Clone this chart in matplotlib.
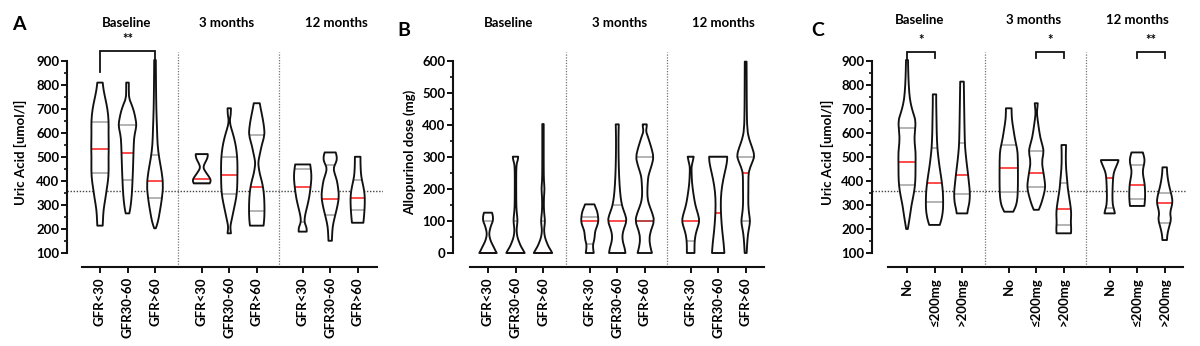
import numpy as np
import matplotlib
matplotlib.use("Agg")
import matplotlib.pyplot as plt
from matplotlib.path import Path
from matplotlib.patches import PathPatch
from matplotlib.ticker import FixedLocator
from matplotlib import transforms

plt.rcParams['font.family'] = ['Lato', 'DejaVu Sans']

# ---------------------------------------------------------------- labels
timepoints = ["Baseline", "3 months", "12 months"]
gfr_groups = ["GFR<30", "GFR30-60", "GFR>60"]
dose_groups = ["No", "\u2264200mg", ">200mg"]

# ---------------------------------------------------------------- panel A: uric acid by GFR group
a_median = [533, 518, 400, 407, 426, 376, 375, 325, 329]
a_q1 = [433, 404, 330, 390, 346, 276, 228, 258, 279]
a_q3 = [644, 633, 508, 512, 499, 592, 449, 467, 404]
a_levels = [
    [214, 240, 280, 330, 360, 400, 440, 500, 540, 600, 650, 700, 740, 780, 810],
    [265, 290, 340, 400, 450, 520, 580, 610, 635, 660, 690, 720, 745, 780, 810],
    [203, 230, 272, 328, 383, 439, 494, 550, 619, 700, 800, 904],
    [390, 400, 410, 425, 440, 455, 470, 485, 500, 512],
    [182, 200, 215, 240, 290, 330, 370, 430, 480, 520, 560, 600, 630, 655, 675, 703],
    [214, 240, 280, 330, 370, 400, 430, 460, 480, 510, 550, 590, 620, 660, 700, 724],
    [189, 205, 220, 235, 260, 290, 330, 370, 410, 440, 469],
    [151, 180, 210, 240, 265, 300, 335, 370, 404, 430, 453, 470, 487, 505, 519],
    [226, 250, 290, 330, 360, 390, 420, 450, 480, 501],
]
a_density = [
    [2.7, 3.0, 3.5, 5.5, 6.5, 8.0, 8.7, 8.5, 8.8, 8.5, 8.7, 7.5, 5.5, 3.5, 2.7],
    [1.8, 3.0, 4.3, 5.0, 5.5, 6.0, 6.5, 8.0, 9.0, 8.0, 6.5, 4.0, 1.5, 1.3, 1.3],
    [0.8, 3.0, 4.8, 7.0, 8.2, 6.7, 4.2, 2.5, 2.0, 1.3, 1.0, 0.8],
    [8.0, 9.0, 8.5, 6.0, 3.5, 1.5, 2.5, 4.5, 6.0, 6.0],
    [1.7, 1.2, 1.2, 2.5, 5.0, 7.0, 8.0, 8.2, 8.2, 7.5, 6.0, 3.5, 1.2, 0.5, 1.5, 1.7],
    [6.8, 7.5, 7.8, 7.5, 6.5, 5.0, 3.0, 1.8, 1.5, 3.0, 5.0, 7.8, 7.5, 6.0, 4.0, 3.0],
    [4.0, 4.0, 2.5, 1.7, 2.5, 4.3, 6.5, 7.8, 8.8, 8.5, 7.5],
    [1.7, 2.0, 2.5, 4.0, 5.5, 7.5, 8.8, 8.0, 6.7, 4.5, 3.3, 5.0, 6.7, 6.5, 5.5],
    [5.7, 6.3, 7.0, 7.2, 6.5, 5.0, 3.5, 3.0, 2.8, 2.8],
]

# ---------------------------------------------------------------- panel B: allopurinol dose by GFR group
b_median = [0, 0, 0, 101, 101, 100, 101, 126, 251]
b_q1 = [0, 0, 0, 28, 0, 100, 38, 0, 100]
b_q3 = [100, 100, 100, 113, 150, 300, 300, 300, 300]
b_levels = [
    [0, 10, 20, 35, 50, 62, 75, 90, 100, 115, 126],
    [0, 10, 20, 35, 50, 70, 85, 100, 115, 140, 200, 260, 280, 290, 301],
    [0, 10, 20, 35, 50, 70, 85, 100, 115, 140, 175, 200, 225, 260, 330, 403],
    [0, 15, 28, 40, 55, 70, 85, 100, 115, 130, 145, 152],
    [0, 15, 35, 55, 75, 100, 120, 140, 160, 190, 240, 300, 360, 402],
    [0, 20, 45, 70, 100, 125, 145, 165, 190, 220, 240, 260, 280, 300, 325, 345, 365, 380, 395, 402],
    [0, 20, 38, 60, 80, 100, 120, 140, 160, 190, 220, 250, 270, 285, 301],
    [0, 30, 70, 110, 150, 190, 230, 270, 290, 301],
    [0, 30, 60, 80, 100, 120, 150, 200, 240, 260, 290, 305, 330, 355, 385, 450, 520, 598],
]
b_density = [
    [8.7, 7.0, 5.5, 3.0, 1.5, 1.2, 2.0, 3.5, 5.0, 5.0, 4.0],
    [9.2, 7.5, 5.5, 3.5, 1.8, 1.0, 1.5, 2.0, 1.7, 0.8, 0.7, 0.7, 1.2, 2.3, 2.7],
    [9.2, 7.5, 5.5, 3.5, 1.8, 1.0, 1.5, 2.0, 1.5, 0.8, 0.9, 1.6, 0.9, 0.7, 0.7, 0.7],
    [4.0, 3.3, 3.3, 4.5, 5.0, 5.5, 7.5, 8.7, 8.3, 7.5, 5.5, 4.7],
    [8.2, 7.5, 5.5, 5.0, 6.5, 9.5, 8.0, 5.5, 4.0, 2.8, 1.8, 1.3, 1.2, 1.5],
    [7.2, 5.5, 4.5, 6.0, 9.7, 7.5, 5.0, 3.0, 2.5, 3.0, 3.5, 5.5, 7.5, 8.8, 7.0, 5.0, 3.0, 1.2, 2.0, 2.0],
    [3.8, 3.8, 4.0, 5.0, 7.0, 8.8, 7.5, 5.5, 4.0, 2.5, 1.3, 0.9, 0.8, 2.0, 3.0],
    [6.2, 5.5, 4.0, 3.0, 2.5, 3.0, 5.0, 8.0, 9.0, 9.0],
    [1.0, 1.5, 2.3, 3.5, 4.5, 3.5, 2.5, 2.7, 2.7, 3.5, 7.5, 8.8, 6.5, 3.5, 1.5, 1.1, 1.0, 0.9],
]

# ---------------------------------------------------------------- panel C: uric acid by allopurinol dose
c_median = [480, 390, 424, 454, 435, 283, 414, 385, 308]
c_q1 = [382, 314, 346, 353, 374, 215, 286, 324, 226]
c_q3 = [619, 536, 560, 551, 525, 393, 487, 467, 349]
c_levels = [
    [200, 230, 270, 300, 340, 380, 420, 470, 520, 570, 610, 650, 680, 700, 740, 800, 860, 904],
    [217, 240, 270, 300, 350, 390, 420, 460, 500, 540, 600, 660, 720, 761],
    [265, 285, 310, 350, 390, 430, 480, 540, 600, 700, 814],
    [272, 285, 300, 330, 380, 450, 520, 550, 580, 620, 660, 703],
    [280, 300, 320, 350, 375, 400, 440, 480, 520, 545, 580, 630, 680, 700, 724],
    [182, 200, 230, 260, 290, 330, 370, 400, 450, 500, 550],
    [265, 280, 300, 340, 380, 420, 440, 460, 480, 487],
    [296, 320, 350, 390, 420, 445, 470, 490, 510, 519],
    [154, 170, 190, 210, 240, 260, 280, 310, 340, 370, 400, 430, 457],
]
c_density = [
    [0.8, 2.0, 3.5, 4.5, 6.5, 8.0, 8.5, 8.5, 8.7, 7.3, 8.0, 8.7, 6.5, 5.0, 2.8, 1.7, 1.2, 1.0],
    [5.3, 7.0, 8.3, 8.7, 8.5, 7.5, 6.5, 5.0, 3.8, 2.8, 2.2, 2.0, 1.7, 1.7],
    [5.3, 6.0, 7.5, 8.0, 7.0, 6.0, 4.5, 3.0, 2.6, 2.2, 1.8],
    [4.5, 6.0, 7.5, 8.8, 9.2, 9.2, 9.0, 7.5, 6.0, 4.5, 3.0, 2.8],
    [2.5, 4.5, 6.0, 8.0, 9.0, 8.5, 7.0, 5.5, 7.5, 6.5, 4.0, 2.2, 0.6, 1.0, 1.5],
    [7.2, 7.5, 7.0, 7.5, 7.0, 5.5, 4.0, 3.5, 2.3, 2.0, 2.3],
    [5.2, 4.5, 3.0, 2.7, 3.0, 3.5, 4.5, 6.5, 8.5, 8.8],
    [7.2, 7.8, 8.0, 7.5, 6.0, 5.5, 7.0, 7.5, 6.3, 5.7],
    [2.3, 2.5, 3.3, 4.5, 6.5, 5.5, 6.0, 8.0, 7.0, 5.0, 3.5, 2.5, 2.2],
]

uric_threshold = 357

# significance brackets: (left index, right index, top, left foot, right foot, label)
a_brackets = [(0, 2, 942, 853, 904, "**")]
c_brackets = [(0, 1, 938, 904, 911, "*"),
              (4, 5, 938, 911, 911, "*"),
              (7, 8, 938, 911, 911, "**")]

# ---------------------------------------------------------------- layout
FIG_W, FIG_H = 1200, 346
STEP = 27.5                      # pixels between neighbouring violins
positions = [0, 1, 2, 3.7, 4.7, 5.7, 7.37, 8.37, 9.37]
separators = [2.85, 6.5]
AX_TOP, AX_BOT = 52, 267         # pixel rows of axes top/bottom
TICK_TOP, TICK_BOT = 61, 253     # pixel rows of the top/bottom y tick

RED = "#ff3c3c"
fig = plt.figure(figsize=(FIG_W / 100, FIG_H / 100), dpi=100)


def side_path(xs, ys):
    pts = list(zip(xs, ys))
    mid = lambda a, b: ((a[0] + b[0]) / 2, (a[1] + b[1]) / 2)
    verts, codes = [], []
    if len(pts) == 2:
        return [pts[1]], [Path.LINETO]
    verts.append(mid(pts[0], pts[1])); codes.append(Path.LINETO)
    for i in range(1, len(pts) - 1):
        verts += [pts[i], mid(pts[i], pts[i + 1])]
        codes += [Path.CURVE3, Path.CURVE3]
    verts.append(pts[-1]); codes.append(Path.LINETO)
    return verts, codes


def violin(ax, c, levels, dens, med, q1, q3):
    y = np.asarray(levels, float)
    w = np.asarray(dens, float) / STEP
    rx, lx = c + w, c - w
    verts, codes = [(rx[0], y[0])], [Path.MOVETO]
    v, cd = side_path(rx, y); verts += v; codes += cd
    verts.append((lx[-1], y[-1])); codes.append(Path.LINETO)
    v, cd = side_path(lx[::-1], y[::-1]); verts += v; codes += cd
    verts.append((rx[0], y[0])); codes.append(Path.CLOSEPOLY)
    path = Path(verts, codes)
    ax.add_patch(PathPatch(path, fc="white", ec="none", zorder=2))
    hw = np.interp(med, y, w) * 0.97
    ax.plot([c - hw, c + hw], [med, med], color=RED, lw=1.3, zorder=3,
            solid_capstyle="butt")
    for q in (q1, q3):
        hw = np.interp(q, y, w) * 0.97
        ax.plot([c - hw, c + hw], [q, q], color="#404040", alpha=0.5, lw=1.1,
                zorder=3.5, solid_capstyle="butt")
    ax.add_patch(PathPatch(path, fc="none", ec="#111111", lw=1.35, zorder=4,
                           joinstyle="round"))


def panel(spine_px, first_px, line_px, right_px, tick_range, tick_step,
          levels, dens, med, q1, q3, xlabels, ylabel, ylabel_px, letter,
          letter_px, header_x, header_py, threshold=None, brackets=()):
    vmin, vmax = tick_range
    ppu = (TICK_BOT - TICK_TOP) / (vmax - vmin)
    ylo = vmin - (AX_BOT - TICK_BOT) / ppu
    yhi = vmax + (TICK_TOP - AX_TOP) / ppu
    ax = fig.add_axes([spine_px / FIG_W, 1 - AX_BOT / FIG_H,
                       (right_px - spine_px) / FIG_W, (AX_BOT - AX_TOP) / FIG_H])
    ax.set_xlim((spine_px - first_px) / STEP, (right_px - first_px) / STEP)
    ax.set_ylim(ylo, yhi)
    ax.set_facecolor("none")
    for s in ("top", "right"):
        ax.spines[s].set_visible(False)
    ax.spines["left"].set_bounds(vmin, vmax)
    ax.spines["bottom"].set_bounds((line_px[0] - first_px) / STEP,
                                   (line_px[1] - first_px) / STEP)
    for s in ("left", "bottom"):
        ax.spines[s].set_linewidth(1.5)
        ax.spines[s].set_color("#111111")

    ax.set_yticks(np.arange(vmin, vmax + 1, tick_step))
    ax.yaxis.set_minor_locator(
        FixedLocator(np.arange(vmin + tick_step / 2, vmax, tick_step)))
    ax.tick_params(axis="y", which="major", length=4.2, width=1.4, pad=1.2,
                   labelsize=9.5, color="#111111")
    ax.tick_params(axis="y", which="minor", length=2.4, width=1.2, color="#111111")
    for t in ax.get_yticklabels():
        t.set_fontweight("bold")

    ax.set_xticks(positions)
    ax.set_xticklabels(xlabels * 3, rotation=90, fontsize=9.5, fontweight="bold")
    ax.tick_params(axis="x", length=4.3, width=1.4, pad=3, color="#111111")

    for x in separators:
        ax.axvline(x, color="#777777", lw=0.9, ls=(0, (1, 1.2)), zorder=1)
    if threshold is not None:
        ax.axhline(threshold, color="#444444", lw=1.0, ls=(0, (1, 1.2)), zorder=1)

    for i, c in enumerate(positions):
        violin(ax, c, levels[i], dens[i], med[i], q1[i], q3[i])

    for i0, i1, top, f0, f1, lab in brackets:
        x0, x1 = positions[i0], positions[i1]
        ax.plot([x0, x0, x1, x1], [f0, top, top, f1], color="#111111", lw=1.3,
                clip_on=False, zorder=5, solid_joinstyle="miter")
        ax.text((x0 + x1) / 2, top + 8 / ppu, lab, ha="center", va="baseline",
                fontsize=9.5, fontweight="bold")

    trans = transforms.blended_transform_factory(ax.transData, fig.transFigure)
    for hx, name in zip(header_x, timepoints):
        ax.text(hx, 1 - header_py / FIG_H, name, transform=trans, ha="center",
                va="center", fontsize=9.5, fontweight="bold")

    fig.text(ylabel_px[0] / FIG_W, 1 - ylabel_px[1] / FIG_H, ylabel, rotation=90,
             ha="center", va="center", fontsize=9.5, fontweight="bold")
    fig.text(letter_px[0] / FIG_W, 1 - letter_px[1] / FIG_H, letter,
             ha="center", va="center", fontsize=14, fontweight="bold")
    return ax


panel(67, 100, (82, 377), 383, (100, 900), 100,
      a_levels, a_density, a_median, a_q1, a_q3, gfr_groups,
      "Uric Acid [umol/l]", (20, 152), "A", (19, 24),
      [0.95, 4.62, 8.6], 23, threshold=uric_threshold, brackets=a_brackets)

panel(453, 488, (470, 764), 768, (0, 600), 100,
      b_levels, b_density, b_median, b_q1, b_q3, gfr_groups,
      "Allopurinol dose (mg)", (410, 152), "B", (404, 30),
      [0.75, 4.77, 8.57], 23)

panel(872, 907, (888, 1183), 1186, (100, 900), 100,
      c_levels, c_density, c_median, c_q1, c_q3, dose_groups,
      "Uric Acid [umol/l]", (827, 152), "C", (818, 30),
      [0.44, 4.6, 8.38], 20, threshold=uric_threshold, brackets=c_brackets)

fig.savefig("out.png", dpi=100)
